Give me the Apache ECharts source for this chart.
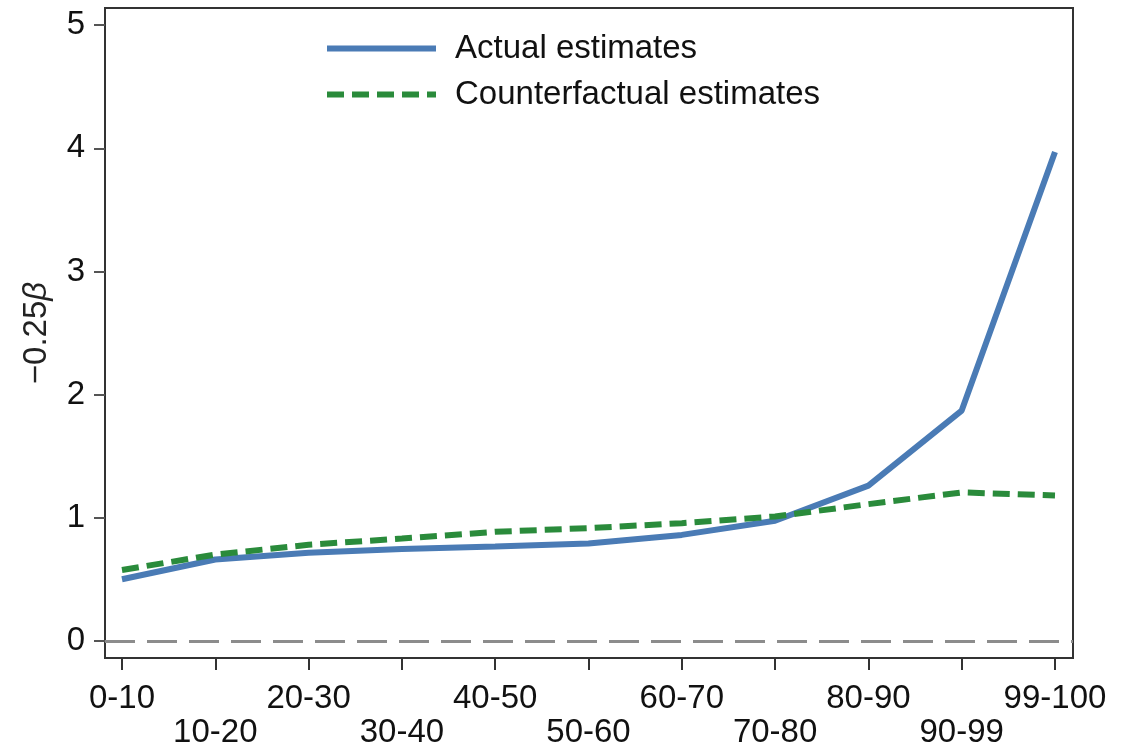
<!DOCTYPE html>
<html>
<head>
<meta charset="utf-8">
<script src="https://cdn.jsdelivr.net/npm/echarts@6/dist/echarts.min.js"></script>
<style>
  html, body { margin: 0; padding: 0; background: #fff; }
  #main { width: 1137px; height: 750px; }
</style>
</head>
<body>
<div id="main"></div>
<script>
const categories = ['0-10', '10-20', '20-30', '30-40', '40-50', '50-60', '60-70', '70-80', '80-90', '90-99', '99-100'];
const actual = [0.50, 0.66, 0.715, 0.745, 0.765, 0.79, 0.86, 0.975, 1.26, 1.87, 3.97];
const counterfactual = [0.575, 0.70, 0.78, 0.83, 0.885, 0.915, 0.955, 1.01, 1.11, 1.205, 1.18];
const yTicks = [0, 1, 2, 3, 4, 5];

const xTicks = categories.map((c, i) => i);
const evenTicks = xTicks.filter(i => i % 2 === 0);
const oddTicks = xTicks.filter(i => i % 2 === 1);
const font = "'Liberation Sans', Arial, sans-serif";
const blue = '#4a7bb5';
const green = '#2a8b3b';
// legend keys: solid bar and five short dashes
const dashIcon = 'path://M0,0h17v6h-17z M25,0h17v6h-17z M50,0h17v6h-17z M75,0h17v6h-17z M100,0h9v6h-9z';

const labelStyle = {
    showMinLabel: true,
    showMaxLabel: true,
    hideOverlap: false,
    fontSize: 33,
    color: '#111',
    fontFamily: font,
    formatter: v => categories[Math.round(v)]
};

const myChart = echarts.init(document.getElementById('main'));

const option = {
    backgroundColor: '#fff',
    animation: false,
    textStyle: { fontFamily: font },
    grid: {
        left: 105,
        right: 64,
        top: 8,
        bottom: 92,
        show: true,
        borderColor: '#333',
        borderWidth: 2
    },
    legend: {
        orient: 'vertical',
        left: 322,
        top: 27,
        itemWidth: 109,
        itemHeight: 6,
        itemGap: 13,
        textStyle: { fontSize: 33, color: '#111', fontFamily: font, padding: [0, 0, 0, 14] },
        data: [
            { name: 'Actual estimates', icon: 'rect', itemStyle: { color: blue } },
            { name: 'Counterfactual estimates', icon: dashIcon, itemStyle: { color: green } }
        ]
    },
    xAxis: [
        {
            type: 'value',
            position: 'bottom',
            min: -0.182,
            max: 10.193,
            splitLine: { show: false },
            axisLine: { show: true, onZero: false, lineStyle: { color: '#333', width: 2 } },
            axisTick: { show: true, customValues: xTicks, length: 12, lineStyle: { color: '#333', width: 2 } },
            axisLabel: Object.assign({ customValues: evenTicks, margin: 24 }, labelStyle)
        },
        {
            // second row of staggered labels
            type: 'value',
            position: 'bottom',
            min: -0.182,
            max: 10.193,
            splitLine: { show: false },
            axisLine: { show: false, onZero: false },
            axisTick: { show: false },
            axisLabel: Object.assign({ customValues: oddTicks, margin: 58 }, labelStyle)
        }
    ],
    yAxis: {
        type: 'value',
        min: -0.14,
        max: 5.14,
        name: '{a|\u22120.25}{b|\u03b2}',
        nameLocation: 'middle',
        nameGap: 52,
        nameRotate: 90,
        nameTextStyle: {
            rich: {
                a: { fontSize: 33, color: '#222', fontFamily: font },
                b: { fontSize: 33, color: '#222', fontFamily: font, fontStyle: 'italic' }
            }
        },
        splitLine: { show: false },
        axisLine: { show: true, onZero: false, lineStyle: { color: '#333', width: 2 } },
        axisTick: { show: true, customValues: yTicks, length: 11, lineStyle: { color: '#555', width: 2 } },
        axisLabel: {
            customValues: yTicks,
            showMinLabel: true,
            showMaxLabel: true,
            margin: 20,
            fontSize: 33,
            color: '#111',
            fontFamily: font
        }
    },
    series: [
        {
            name: 'Actual estimates',
            type: 'line',
            symbol: 'none',
            data: categories.map((c, i) => [i, actual[i]]),
            lineStyle: { color: blue, width: 6 },
            itemStyle: { color: blue },
            z: 3,
            markLine: {
                silent: true,
                symbol: 'none',
                label: { show: false },
                lineStyle: { color: '#8c8c8c', width: 3, type: [30, 12] },
                data: [{ yAxis: 0 }]
            }
        },
        {
            name: 'Counterfactual estimates',
            type: 'line',
            symbol: 'none',
            data: categories.map((c, i) => [i, counterfactual[i]]),
            lineStyle: { color: green, width: 6, type: [17, 8] },
            itemStyle: { color: green },
            z: 4
        }
    ]
};

myChart.setOption(option, true);
</script>
</body>
</html>
